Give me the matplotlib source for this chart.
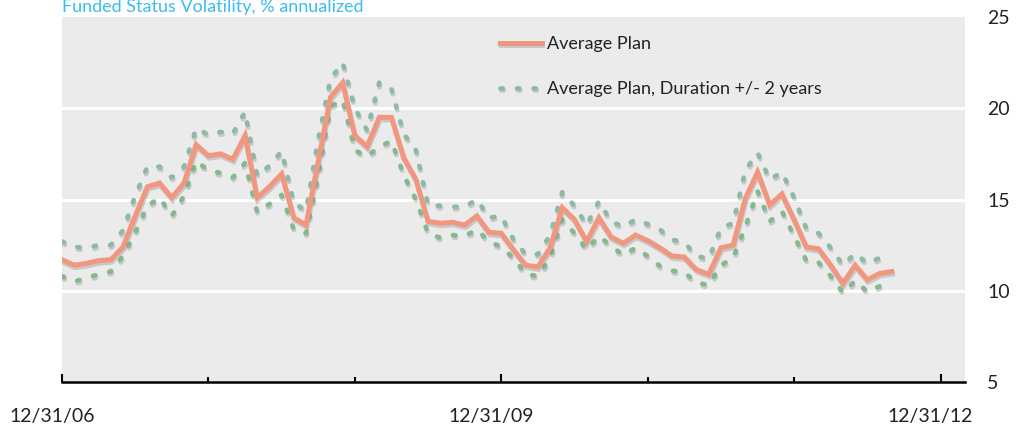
import numpy as np
import matplotlib
matplotlib.use('Agg')
from matplotlib import pyplot as plt
from matplotlib import patheffects as pe
from matplotlib.transforms import ScaledTranslation

# monthly values, 12/31/06 .. 8/31/12
avg_plan = [11.7, 11.4, 11.5, 11.65, 11.7, 12.4, 14.1, 15.7, 15.9, 15.1, 15.9, 18.0,
            17.4, 17.5, 17.2, 18.5, 15.1, 15.7, 16.4, 14.0, 13.6, 17.1, 20.6, 21.4,
            18.5, 17.9, 19.5, 19.5, 17.3, 16.1, 13.8, 13.7, 13.75, 13.6, 14.1, 13.2,
            13.15, 12.25, 11.4, 11.3, 12.35, 14.55, 13.9, 12.7, 14.0, 12.95, 12.6, 13.05,
            12.75, 12.35, 11.9, 11.85, 11.15, 10.9, 12.35, 12.5, 15.05, 16.5, 14.7, 15.3,
            13.9, 12.4, 12.3, 11.4, 10.4, 11.4, 10.6, 10.95, 11.05]
dur_up = [12.7, 12.4, 12.35, 12.5, 12.5, 13.3, 15.2, 16.8, 16.8, 16.2, 16.8, 18.9,
          18.55, 18.7, 18.6, 19.8, 16.3, 16.85, 17.65, 14.8, 14.4, 18.3, 21.6, 22.5,
          20.0, 18.8, 21.4, 21.05, 18.6, 17.7, 14.7, 14.65, 14.6, 14.6, 15.0, 14.0,
          14.1, 12.8, 12.0, 12.0, 13.05, 15.4, 14.65, 13.6, 14.9, 13.8, 13.5, 13.9,
          13.65, 13.35, 12.8, 12.65, 11.9, 11.75, 13.45, 13.7, 16.6, 17.55, 16.1, 16.5,
          15.1, 13.4, 13.15, 12.35, 11.4, 12.05, 11.5, 11.8]
dur_down = [10.8, 10.5, 10.7, 10.9, 11.05, 11.9, 13.2, 14.65, 15.1, 14.1, 15.2, 17.1,
            16.6, 16.45, 16.2, 17.0, 14.3, 14.75, 15.25, 13.35, 13.15, 16.3, 20.1, 20.45,
            17.7, 17.35, 17.9, 18.2, 16.35, 15.0, 13.15, 12.9, 13.05, 13.0, 13.35, 12.7,
            12.4, 11.8, 10.9, 10.8, 11.8, 13.9, 13.15, 12.25, 13.0, 12.45, 11.95, 12.35,
            11.9, 11.35, 11.1, 11.0, 10.45, 10.3, 11.4, 11.8, 13.5, 15.45, 13.8, 14.35,
            13.0, 11.65, 11.55, 10.8, 9.9, 10.55, 9.95, 10.25]

major_months = [0, 36, 72]
major_labels = ['12/31/06', '12/31/09', '12/31/12']
minor_months = [12, 24, 48, 60]
y_ticks = [5, 10, 15, 20, 25]

plt.rcParams['font.family'] = ['Lato', 'DejaVu Sans']

fig = plt.figure(figsize=(10.25, 4.29), dpi=100)
ax = fig.add_axes([62 / 1025, 1 - 382 / 429, (965 - 62) / 1025, (382 - 17) / 429])
ax.set_facecolor('#ebebeb')

for v in [10, 15, 20]:
    ax.axhline(v, color='white', lw=2.2, zorder=1)

shadow = [pe.SimpleLineShadow(offset=(0.6, -1.8), shadow_color='#888888', alpha=0.35), pe.Normal()]
dots = (0, (0.5, 3.0))

x_avg = np.arange(len(avg_plan))
x_dur = np.arange(len(dur_up))
ax.plot(x_dur, dur_up, color='#8dbaa6', lw=3.4, ls=dots, dash_capstyle='round',
        path_effects=shadow, zorder=3, label='Average Plan, Duration +/- 2 years')
ax.plot(x_dur, dur_down, color='#84b98d', lw=3.4, ls=dots, dash_capstyle='round',
        path_effects=shadow, zorder=3, label='_nolegend_')
ax.plot(x_avg, avg_plan, color='#f2977f', lw=3.6, solid_joinstyle='miter',
        path_effects=shadow, zorder=4, label='Average Plan')

ax.set_xlim(0, 74)
ax.set_ylim(5, 25)

for s in ['top', 'left', 'right']:
    ax.spines[s].set_visible(False)
ax.spines['bottom'].set_linewidth(1.8)
ax.spines['bottom'].set_color('black')
ax.spines['bottom'].set_zorder(5)

ax.set_xticks(major_months)
ax.set_xticklabels(major_labels)
ax.set_xticks(minor_months, minor=True)
ax.tick_params(axis='x', which='major', direction='in', length=6, width=1.5, color='black',
               pad=19, labelsize=14, labelcolor='#222222')
ax.tick_params(axis='x', which='minor', direction='in', length=3.8, width=1.5, color='black')
for lbl in ax.get_xticklabels():
    lbl.set_transform(lbl.get_transform() + ScaledTranslation(-10 / 100, 0, fig.dpi_scale_trans))

ax.yaxis.tick_right()
ax.set_yticks(y_ticks)
ax.tick_params(axis='y', length=0, pad=16, labelsize=14, labelcolor='#222222')

handles, labels = ax.get_legend_handles_labels()
order = [1, 0]
leg = ax.legend([handles[i] for i in order], [labels[i] for i in order],
                loc='upper left', bbox_to_anchor=(500 / 1025, 1 - 36 / 429),
                bbox_transform=fig.transFigure, frameon=False, fontsize=13,
                handlelength=2.3, handletextpad=0.3, labelspacing=1.6,
                borderpad=0, borderaxespad=0)
for t in leg.get_texts():
    t.set_color('#222222')

fig.text(62 / 1025, 1 - 12 / 429, 'Funded Status Volatility, % annualized',
         color='#3dbcee', fontsize=13, va='baseline', ha='left')

fig.savefig('out.png', dpi=100)
